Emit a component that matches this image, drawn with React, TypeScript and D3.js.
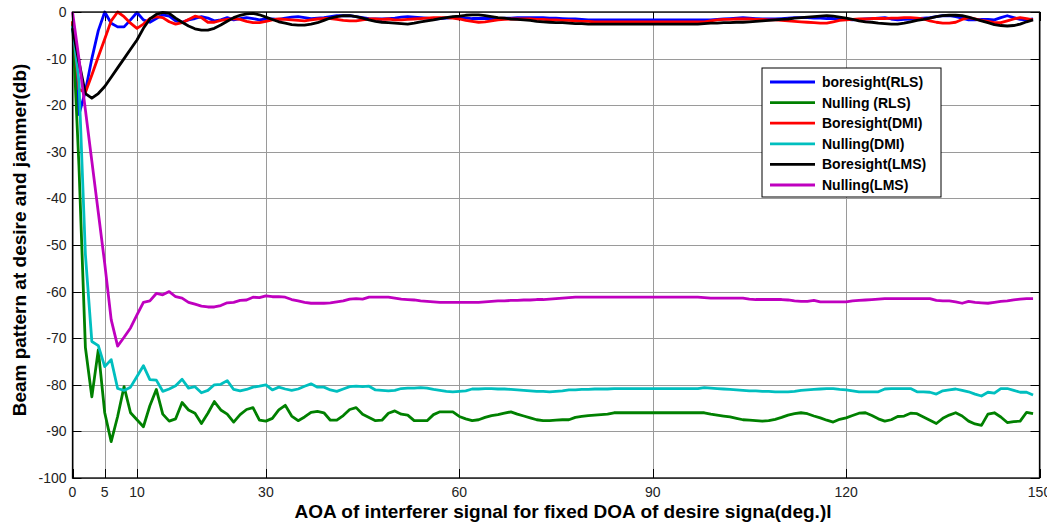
import React, { useRef, useEffect } from "react";
import * as d3 from "d3";

// AOA of the interferer, degrees (one sample per degree)
const angles = [
  0, 1, 2, 3, 4, 5, 6, 7, 8, 9, 10, 11, 12, 13, 14, 15, 16, 17, 18, 19,
  20, 21, 22, 23, 24, 25, 26, 27, 28, 29, 30, 31, 32, 33, 34, 35, 36, 37, 38, 39,
  40, 41, 42, 43, 44, 45, 46, 47, 48, 49, 50, 51, 52, 53, 54, 55, 56, 57, 58, 59,
  60, 61, 62, 63, 64, 65, 66, 67, 68, 69, 70, 71, 72, 73, 74, 75, 76, 77, 78, 79,
  80, 81, 82, 83, 84, 85, 86, 87, 88, 89, 90, 91, 92, 93, 94, 95, 96, 97, 98, 99,
  100, 101, 102, 103, 104, 105, 106, 107, 108, 109, 110, 111, 112, 113, 114, 115, 116, 117, 118, 119,
  120, 121, 122, 123, 124, 125, 126, 127, 128, 129, 130, 131, 132, 133, 134, 135, 136, 137, 138, 139,
  140, 141, 142, 143, 144, 145, 146, 147, 148, 149
];

const boresightRLS = [
  -2.5, -22, -17, -10, -4, 0, -2.4, -3.2, -3.2, -1.7,
  -0.1, -1.7, -2.2, -1.4, -0.6, -0.9, -1.9, -2.2, -1.7, -1.4,
  -1.0, -1.3, -1.9, -1.7, -1.2, -1.7, -1.4, -1.2, -1.4, -1.7,
  -1.5, -1.5, -1.6, -1.3, -1.1, -1.0, -1.2, -1.4, -1.3, -1.2,
  -1.0, -0.8, -0.8, -0.8, -1.0, -1.2, -1.4, -1.5, -1.5, -1.4,
  -1.3, -1.1, -1.0, -1.1, -1.2, -1.3, -1.5, -1.4, -1.3, -1.2,
  -1.2, -1.3, -1.4, -1.4, -1.4, -1.4, -1.4, -1.3, -1.3, -1.2,
  -1.2, -1.2, -1.2, -1.2, -1.3, -1.3, -1.4, -1.5, -1.5, -1.6,
  -1.7, -1.7, -1.7, -1.7, -1.7, -1.7, -1.7, -1.7, -1.7, -1.7,
  -1.7, -1.7, -1.7, -1.7, -1.7, -1.7, -1.7, -1.7, -1.7, -1.7,
  -1.6, -1.5, -1.4, -1.3, -1.2, -1.3, -1.4, -1.5, -1.5, -1.5,
  -1.4, -1.3, -1.2, -1.2, -1.2, -1.3, -1.3, -1.4, -1.4, -1.5,
  -1.6, -1.7, -1.6, -1.5, -1.4, -1.3, -1.2, -1.5, -1.7, -1.6,
  -1.5, -1.4, -1.3, -1.2, -1.0, -0.8, -0.8, -1.0, -1.3, -1.7,
  -1.7, -1.6, -1.6, -1.7, -1.2, -0.8, -1.2, -1.6, -1.7, -1.5
];

const nullingRLS = [
  -2, -33, -72, -82.6, -72.5, -86, -92.2, -86.8, -80.4, -86,
  -87.5, -89, -84.5, -81, -86.3, -87.8, -87.3, -83.8, -85.4, -86.1,
  -88.3, -86.1, -83.6, -85.4, -86.3, -88, -86.4, -85.3, -84.9, -87.6,
  -87.8, -87.2, -85.4, -84.4, -86.7, -87.7, -86.9, -85.9, -85.7, -86.0,
  -87.6, -87.6, -86.6, -85.3, -84.9, -86.3, -87.0, -87.7, -87.6, -86.1,
  -85.6, -86.3, -86.5, -87.7, -87.7, -87.7, -86.4, -85.8, -85.8, -85.8,
  -86.8, -87.3, -87.7, -87.5, -87.0, -86.6, -86.4, -86.1, -85.8, -86.3,
  -86.7, -87.1, -87.5, -87.7, -87.7, -87.6, -87.5, -87.5, -87.0, -86.8,
  -86.6, -86.5, -86.4, -86.3, -86.0, -86.0, -86.0, -86.0, -86.0, -86.0,
  -86.0, -86.0, -86.0, -86.0, -86.0, -86.0, -86.0, -86.0, -86.0, -86.3,
  -86.5, -86.7, -86.9, -87.2, -87.5, -87.6, -87.7, -87.8, -87.7, -87.4,
  -87.0, -86.5, -86.2, -86.0, -86.2, -86.7, -87.1, -87.6, -88.0, -87.4,
  -87.1, -86.6, -86.1, -86.0, -86.6, -87.3, -87.8, -87.5, -86.8, -86.7,
  -86.1, -86.2, -86.9, -87.6, -88.3, -87.2, -86.5, -86.0, -86.7, -87.8,
  -88.4, -88.7, -86.3, -86.0, -86.9, -88.1, -87.9, -87.8, -85.9, -86.2
];

const boresightDMI = [
  -2, -16.6, -17.3, -13.5, -9.6, -5.8, -1.9, 0, -1.0, -2.4,
  -3.5, -2.6, -1.4, -1.0, -1.2, -2.1, -2.6, -2.3, -1.6, -0.9,
  -1.2, -2.2, -2.2, -1.8, -1.6, -1.4, -1.6, -2.0, -2.3, -2.3,
  -2.0, -1.7, -1.5, -1.6, -1.7, -1.8, -1.9, -1.7, -1.5, -1.4,
  -1.4, -1.6, -1.8, -1.9, -1.9, -1.7, -1.5, -1.5, -1.6, -1.5,
  -1.7, -1.7, -1.6, -1.5, -1.4, -1.3, -1.2, -1.2, -1.2, -1.3,
  -1.5, -1.8, -2.0, -2.2, -2.1, -1.9, -1.7, -1.6, -1.5, -1.5,
  -1.5, -1.5, -1.6, -1.6, -1.7, -1.7, -1.8, -1.8, -1.9, -2.0,
  -2.0, -2.1, -2.1, -2.1, -2.1, -2.1, -2.1, -2.1, -2.1, -2.1,
  -2.1, -2.1, -2.1, -2.1, -2.1, -2.1, -2.1, -2.1, -2.1, -1.9,
  -1.7, -1.6, -1.6, -1.5, -1.5, -1.5, -1.6, -1.6, -1.7, -1.7,
  -1.8, -1.9, -2.0, -2.1, -2.2, -2.3, -2.4, -2.4, -2.1, -1.8,
  -1.7, -1.6, -1.5, -1.5, -1.4, -1.4, -1.4, -1.3, -1.3, -1.2,
  -1.2, -1.3, -1.5, -1.9, -2.2, -2.4, -2.4, -2.2, -1.6, -1.2,
  -1.5, -1.8, -2.0, -2.3, -2.3, -1.9, -1.5, -1.2, -1.4, -1.7
];

const nullingDMI = [
  -3, -15, -52, -70.7, -71.6, -76.1, -74.6, -80.8, -81.2, -80.5,
  -78.2, -75.9, -78.9, -79.0, -81.4, -80.9, -80.2, -78.8, -80.7, -80.4,
  -81.7, -81.2, -80.0, -79.9, -79.1, -81.0, -81.3, -81.0, -80.5, -80.3,
  -80.0, -81.1, -80.5, -80.9, -81.2, -80.9, -80.3, -79.8, -80.5, -80.5,
  -81.1, -81.4, -80.9, -80.4, -80.3, -80.4, -80.3, -81.1, -81.2, -81.3,
  -81.2, -80.8, -80.7, -80.7, -80.6, -80.7, -81.0, -81.2, -81.4, -81.5,
  -81.4, -81.3, -80.9, -80.9, -80.8, -80.8, -80.9, -80.9, -81.0, -81.1,
  -81.2, -81.3, -81.4, -81.4, -81.5, -81.4, -81.3, -81.1, -81.1, -81.0,
  -81.0, -80.9, -80.9, -80.9, -80.8, -80.8, -80.8, -80.8, -80.8, -80.8,
  -80.8, -80.8, -80.8, -80.8, -80.8, -80.8, -80.8, -80.8, -80.6, -80.7,
  -80.8, -80.9, -81.0, -81.1, -81.2, -81.3, -81.3, -81.4, -81.4, -81.5,
  -81.5, -81.5, -81.4, -81.2, -81.1, -81.0, -80.9, -80.8, -80.8, -81.0,
  -81.1, -81.3, -81.5, -81.5, -81.5, -81.5, -80.9, -80.8, -80.8, -80.8,
  -80.8, -81.5, -81.5, -81.6, -82.0, -81.3, -81.1, -80.9, -81.2, -81.5,
  -82.0, -82.4, -81.6, -81.8, -80.8, -80.8, -81.2, -81.6, -81.6, -82.2
];

const boresightLMS = [
  -3.5, -10.7, -17.5, -18.5, -17.5, -16, -14, -12, -10, -8,
  -6, -3.5, -1.5, -0.5, -0.1, -0.3, -1.3, -2.2, -3.0, -3.6,
  -3.9, -3.9, -3.5, -2.8, -2.0, -1.2, -0.7, -0.4, -0.3, -0.6,
  -1.1, -1.6, -2.1, -2.4, -2.7, -2.8, -2.8, -2.6, -2.3, -1.8,
  -1.3, -1.0, -0.8, -0.8, -1.0, -1.3, -1.7, -2.0, -2.2, -2.3,
  -2.4, -2.5, -2.6, -2.4, -2.1, -1.9, -1.7, -1.4, -1.2, -1.0,
  -0.9, -0.7, -0.6, -0.6, -0.8, -1.0, -1.2, -1.3, -1.5, -1.6,
  -1.7, -1.8, -2.0, -2.1, -2.2, -2.3, -2.3, -2.4, -2.5, -2.5,
  -2.6, -2.6, -2.6, -2.6, -2.6, -2.6, -2.6, -2.6, -2.6, -2.6,
  -2.6, -2.6, -2.6, -2.6, -2.6, -2.6, -2.6, -2.6, -2.5, -2.4,
  -2.4, -2.3, -2.3, -2.2, -2.2, -2.1, -2.0, -1.9, -1.8, -1.7,
  -1.6, -1.5, -1.3, -1.2, -1.1, -1.0, -0.9, -0.8, -0.9, -1.1,
  -1.3, -1.6, -1.9, -2.1, -2.2, -2.4, -2.5, -2.6, -2.6, -2.4,
  -2.1, -1.8, -1.6, -1.3, -1.0, -0.8, -0.7, -0.7, -0.8, -1.1,
  -1.5, -1.9, -2.3, -2.7, -2.9, -3.0, -2.9, -2.6, -2.1, -1.7
];

const nullingLMS = [
  0, -10, -21, -32, -43, -54, -66, -71.7, -69.8, -67.8,
  -65, -62.3, -62.0, -60.4, -60.7, -60.0, -61.1, -61.4, -62.3, -62.7,
  -63.1, -63.3, -63.3, -63.0, -62.4, -62.3, -61.9, -61.8, -61.2, -61.3,
  -60.9, -61.1, -61.1, -61.2, -61.7, -62.0, -62.3, -62.5, -62.5, -62.5,
  -62.4, -62.2, -62.0, -61.6, -61.5, -61.6, -61.2, -61.2, -61.2, -61.2,
  -61.4, -61.6, -61.7, -61.8, -62.0, -62.1, -62.2, -62.3, -62.3, -62.3,
  -62.3, -62.3, -62.3, -62.3, -62.2, -62.1, -62.0, -62.0, -61.9, -61.9,
  -61.8, -61.8, -61.7, -61.7, -61.6, -61.5, -61.4, -61.3, -61.2, -61.2,
  -61.2, -61.2, -61.2, -61.2, -61.2, -61.2, -61.2, -61.2, -61.2, -61.2,
  -61.2, -61.2, -61.2, -61.2, -61.2, -61.2, -61.2, -61.2, -61.3, -61.4,
  -61.4, -61.4, -61.4, -61.4, -61.4, -61.6, -61.7, -61.7, -61.7, -61.7,
  -61.7, -61.8, -62.0, -62.1, -62.1, -61.9, -62.2, -62.2, -62.2, -62.2,
  -62.2, -62.0, -61.9, -61.8, -61.7, -61.6, -61.5, -61.5, -61.5, -61.5,
  -61.5, -61.5, -61.5, -61.5, -61.9, -62.0, -62.0, -62.2, -62.5, -62.1,
  -62.3, -62.4, -62.5, -62.3, -62.1, -62.0, -61.8, -61.6, -61.5, -61.5
];

const seriesNames = [
  "boresight(RLS)",
  "Nulling (RLS)",
  "Boresight(DMI)",
  "Nulling(DMI)",
  "Boresight(LMS)",
  "Nulling(LMS)"
];
const seriesValues = [boresightRLS, nullingRLS, boresightDMI, nullingDMI, boresightLMS, nullingLMS];
const colors = ["#0000ff", "#008000", "#ff0000", "#00bfbf", "#000000", "#bf00bf"];

const xTicks = [0, 5, 10, 30, 60, 90, 120, 150];
const yTicks = [-100, -90, -80, -70, -60, -50, -40, -30, -20, -10, 0];

function App() {
  const ref = useRef<SVGSVGElement>(null);

  useEffect(() => {
    const width = 1047,
      height = 525;
    const left = 72.5,
      right = 1039.5,
      top = 12,
      bottom = 478;
    const font = "'Liberation Sans', Arial, sans-serif";

    const svg = d3.select(ref.current);
    svg.selectAll("*").remove();
    svg.append("rect").attr("width", width).attr("height", height).attr("fill", "#fff");

    const x = d3.scaleLinear().domain([0, 150]).range([left, right]);
    const y = d3.scaleLinear().domain([-100, 0]).range([bottom, top]);

    // grid
    const grid = svg.append("g").attr("stroke", "#9a9a9a").attr("stroke-width", 1);
    grid
      .selectAll(".gx")
      .data(xTicks)
      .enter()
      .append("line")
      .attr("x1", d => Math.round(x(d)) + 0.5)
      .attr("x2", d => Math.round(x(d)) + 0.5)
      .attr("y1", top)
      .attr("y2", bottom);
    grid
      .selectAll(".gy")
      .data(yTicks)
      .enter()
      .append("line")
      .attr("x1", left)
      .attr("x2", right)
      .attr("y1", d => Math.round(y(d)) + 0.5)
      .attr("y2", d => Math.round(y(d)) + 0.5);

    // inward ticks on all four sides
    const tickLen = 9;
    const ticks = svg.append("g").attr("stroke", "#000").attr("stroke-width", 1);
    xTicks.forEach(t => {
      const px = Math.round(x(t)) + 0.5;
      ticks.append("line").attr("x1", px).attr("x2", px).attr("y1", bottom).attr("y2", bottom - tickLen);
      ticks.append("line").attr("x1", px).attr("x2", px).attr("y1", top).attr("y2", top + tickLen);
    });
    yTicks.forEach(t => {
      const py = Math.round(y(t)) + 0.5;
      ticks.append("line").attr("x1", left).attr("x2", left + tickLen).attr("y1", py).attr("y2", py);
      ticks.append("line").attr("x1", right).attr("x2", right - tickLen).attr("y1", py).attr("y2", py);
    });

    // series
    const line = d3
      .line<number>()
      .x((d, i) => x(angles[i]))
      .y(d => y(d));

    seriesValues.forEach((vals, i) => {
      svg
        .append("path")
        .datum(vals)
        .attr("d", line)
        .attr("fill", "none")
        .attr("stroke", colors[i])
        .attr("stroke-width", 2.8)
        .attr("stroke-linejoin", "round");
    });

    // box
    svg
      .append("rect")
      .attr("x", left)
      .attr("y", top)
      .attr("width", right - left)
      .attr("height", bottom - top)
      .attr("fill", "none")
      .attr("stroke", "#000")
      .attr("stroke-width", 1.3);

    // tick labels
    svg
      .append("g")
      .selectAll("text")
      .data(xTicks)
      .enter()
      .append("text")
      .attr("x", d => x(d))
      .attr("y", bottom + 19)
      .attr("text-anchor", "middle")
      .attr("font-family", font)
      .attr("font-size", "14px")
      .attr("fill", "#222")
      .text(d => d);

    svg
      .append("g")
      .selectAll("text")
      .data(yTicks)
      .enter()
      .append("text")
      .attr("x", left - 6)
      .attr("y", d => y(d) + 5)
      .attr("text-anchor", "end")
      .attr("font-family", font)
      .attr("font-size", "14px")
      .attr("fill", "#222")
      .text(d => d);

    // axis titles
    svg
      .append("text")
      .attr("x", 563)
      .attr("y", 518)
      .attr("text-anchor", "middle")
      .attr("font-family", font)
      .attr("font-size", "19px")
      .attr("font-weight", "bold")
      .text("AOA of interferer signal for fixed DOA of desire signa(deg.)l");

    svg
      .append("text")
      .attr("transform", `translate(26, 240) rotate(-90)`)
      .attr("text-anchor", "middle")
      .attr("font-family", font)
      .attr("font-size", "19px")
      .attr("font-weight", "bold")
      .text("Beam pattern at desire and jammer(db)");

    // legend
    const lg = svg.append("g").attr("transform", "translate(762, 68)");
    lg.append("rect")
      .attr("width", 179)
      .attr("height", 129)
      .attr("fill", "#fff")
      .attr("stroke", "#000")
      .attr("stroke-width", 1);
    seriesNames.forEach((name, i) => {
      const ly = 14 + i * 20.6;
      lg.append("line")
        .attr("x1", 8)
        .attr("x2", 53)
        .attr("y1", ly)
        .attr("y2", ly)
        .attr("stroke", colors[i])
        .attr("stroke-width", 2.8);
      lg.append("text")
        .attr("x", 60)
        .attr("y", ly + 5)
        .attr("font-family", font)
        .attr("font-size", "14px")
        .attr("font-weight", "bold")
        .text(name);
    });
  }, []);

  return (
    <svg
      ref={ref}
      width={1047}
      height={525}
      style={{ position: "absolute", left: 0, top: 0, display: "block" }}
    />
  );
}

export default App;
